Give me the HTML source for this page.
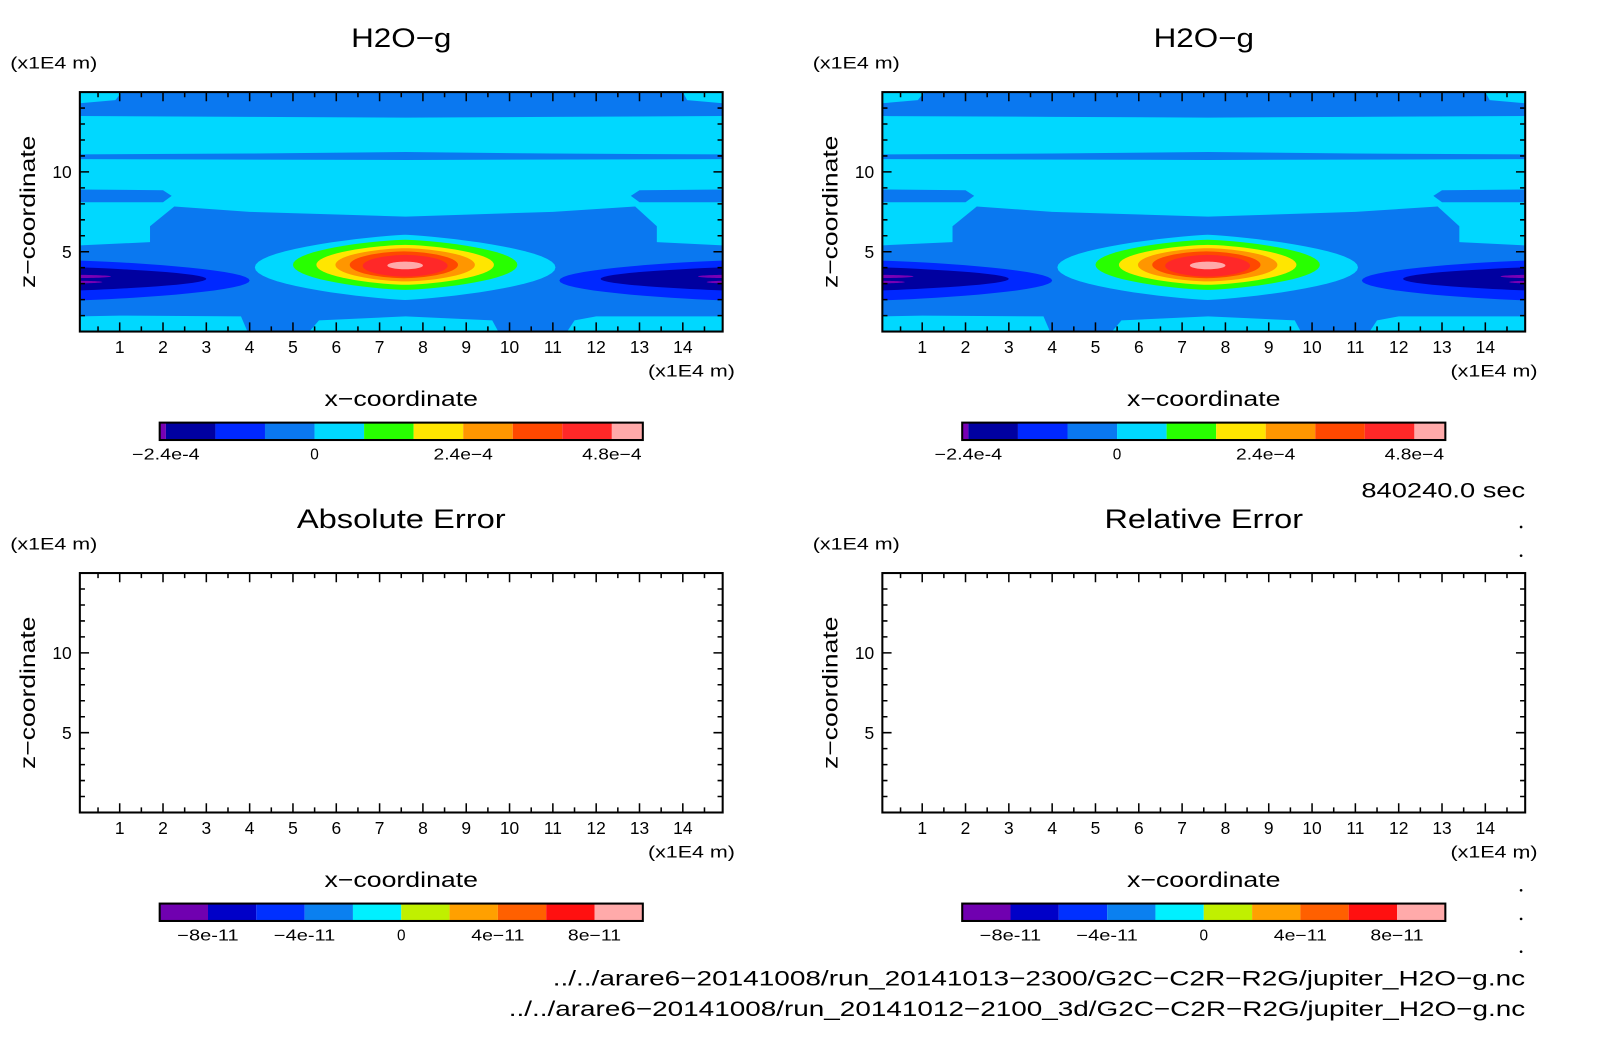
<!DOCTYPE html>
<html><head><meta charset="utf-8"><style>
html,body{margin:0;padding:0;background:#fff;}
svg{display:block;}
text{font-family:"Liberation Sans",sans-serif;fill:#000;}
</style></head><body>
<svg id="fig" width="1604" height="1054" viewBox="0 0 1567 1030" preserveAspectRatio="none" xmlns="http://www.w3.org/2000/svg"></svg>
<script>
// ---- data ----
const levelColors = ["#7800b4","#0000a0","#0028ff","#0a78f0","#00d8ff","#28ff00","#ffe600","#ff9600","#ff4800","#ff2828","#ffaaaa"];
const topTicks = ["-2.4e-4","0","2.4e-4","4.8e-4"];
const topTickVals = [-2.4e-4,0,2.4e-4,4.8e-4];
const topLevels = [-2.4e-4,-1.6e-4,-0.8e-4,0,0.8e-4,1.6e-4,2.4e-4,3.2e-4,4.0e-4,4.8e-4];
const errColors = ["#7000b0","#0000c8","#0030ff","#0a80f0","#00f0ff","#c0f000","#ffa000","#ff6000","#ff1010","#ffaaaa"];
const errLevels = [-1e-10,-8e-11,-6e-11,-4e-11,-2e-11,0,2e-11,4e-11,6e-11,8e-11,1e-10];
const errTicks = ["-8e-11","-4e-11","0","4e-11","8e-11"];
const errTickVals = [-8e-11,-4e-11,0,4e-11,8e-11];
const xTickLabels = [1,2,3,4,5,6,7,8,9,10,11,12,13,14];
const zTickLabels = [5,10];
// polygon regions: [level, [[x,z],...]]
const polys = [
 [4, [[0.08,15],[1.05,15],[0.9,14.5],[0.08,14.3]]],
 [4, [[14.92,15],[14.0,15],[14.1,14.5],[14.92,14.3]]],
 [4, [[0.08,13.5],[4,13.45],[7.6,13.4],[11,13.45],[14.92,13.5],[14.92,11.1],[11,11.15],[7.6,11.25],[4,11.15],[0.08,11.1]]],
 [4, [[0.08,10.8],[7.6,10.75],[14.92,10.8],[14.92,5.4],[13.4,5.6],[13.4,6.6],[12.9,7.83],[11,7.5],[7.6,7.2],[4,7.5],[2.26,7.83],[1.7,6.6],[1.7,5.6],[0.08,5.4]]],
 [3, [[0.08,8.9],[2.0,8.85],[2.2,8.5],[2.0,8.1],[0.08,8.1]]],
 [3, [[14.92,8.9],[13.0,8.85],[12.8,8.5],[13.0,8.1],[14.92,8.1]]],
 [4, [[0.08,0],[3.95,0],[3.8,0.95],[1,1.0],[0.08,0.95]]],
 [4, [[5.38,0],[9.74,0],[9.6,0.7],[7.6,0.95],[5.6,0.7]]],
 [4, [[11.33,0],[14.92,0],[14.92,0.95],[12,0.95],[11.5,0.7]]]
];
// ellipses: [level, cx, cz, rx, rz, pointiness]
const blobs = [
 [2, 0, 3.2, 4.0, 1.25, 1.6],[2, 15, 3.2, 3.85, 1.25, 1.6],
 [1, 0, 3.3, 3.0, 0.73, 1.8],[1, 15, 3.3, 2.9, 0.73, 1.8],
 [0, 0, 3.45, 0.8, 0.1, 1],[0, 0, 3.1, 0.6, 0.08, 1],
 [0, 15, 3.45, 0.65, 0.1, 1],[0, 15, 3.1, 0.45, 0.08, 1],
 [4, 7.59, 4.02, 3.47, 2.04, 1.6],
 [5, 7.59, 4.18, 2.59, 1.57, 1.4],
 [6, 7.59, 4.18, 2.05, 1.25, 1.3],
 [7, 7.59, 4.18, 1.61, 1.04, 1.2],
 [8, 7.56, 4.18, 1.25, 0.84, 1.15],
 [9, 7.59, 4.12, 0.98, 0.68, 1.1],
 [10, 7.59, 4.14, 0.41, 0.24, 1]
];
// ---- drawing ----
const NS="http://www.w3.org/2000/svg";
const svg=document.getElementById('fig');
function mk(tag,attrs,parent){const e=document.createElementNS(NS,tag);for(const k in attrs)e.setAttribute(k,attrs[k]);(parent||svg).appendChild(e);return e;}
function txt(s,x,y,size,anchor,parent,w){const a={x:x,y:y,'font-size':size,'text-anchor':anchor||'start'};
 if(w){a.textLength=w;a.lengthAdjust='spacingAndGlyphs';}
 const t=mk('text',a,parent);t.textContent=s;return t;}
const X0=0.08,X1=14.92,Z0=0,Z1=15;
function panel(ox,oy,title,tw,filled,cbColors,cbLevels,cbTicks,cbVals,cbRange,pid,cbw){
 const g=mk('g',{});
 
 
 const L=78+ox,R=706+ox,T=90+oy,B=324+oy;
 const sx=x=>L+(x-X0)/(X1-X0)*(R-L);
 const sz=z=>B-(z-Z0)/(Z1-Z0)*(B-T);
 let t=txt(title,392+ox,46+oy,26,'middle',g,tw);
 
 t=txt('(x1E4 m)',10+ox,67+oy,16,'start',g,85);
 
 if(filled){
  const cid='clip'+pid;
  const cp=mk('clipPath',{id:cid},g);mk('rect',{x:L,y:T,width:R-L,height:B-T},cp);
  const fg=mk('g',{'clip-path':'url(#'+cid+')'},g);
  
  const bg=mk('rect',{x:L,y:T,width:R-L,height:B-T,fill:levelColors[3]},fg);
  
  polys.forEach(p=>{const pl=mk('polygon',{points:p[1].map(q=>sx(q[0])+','+sz(q[1])).join(' '),fill:levelColors[p[0]]},fg);
   });
  blobs.forEach(b=>{const pts=[];for(let i=0;i<72;i++){const a=i/72*2*Math.PI;const c=Math.cos(a),s=Math.sin(a);
    const cc=Math.sign(c)*Math.pow(Math.abs(c),b[5]);pts.push(sx(b[1]+b[3]*cc)+','+sz(b[2]+b[4]*s));}
   const pl=mk('polygon',{points:pts.join(' '),fill:levelColors[b[0]]},fg);
   });
 }
 const fr=mk('rect',{x:L,y:T,width:R-L,height:B-T,fill:'none',stroke:'#000','stroke-width':2},g);
 
 let d='';
 for(let v=0.5;v<X1;v+=0.5){const len=(v%1===0)?9:5;const x=sx(v);d+=`M${x},${B}v${-len}M${x},${T}v${len}`;}
 for(let v=1;v<Z1;v+=1){const len=(v%5===0)?9:5;const y=sz(v);d+=`M${L},${y}h${len}M${R},${y}h${-len}`;}
 const tk=mk('path',{d:d,stroke:'#000','stroke-width':1.5,fill:'none'},g);
 
 xTickLabels.forEach(v=>{const e=txt(String(v),sx(v),B+21,17,'middle',g);
  });
 zTickLabels.forEach(v=>{const e=txt(String(v),L-8,sz(v)+6,17,'end',g);
  });
 t=txt('(x1E4 m)',718+ox,368+oy,16,'end',g,85);
 
 t=txt('x\u2212coordinate',392+ox,397+oy,21,'middle',g,150);
 
 t=txt('z\u2212coordinate',0,0,21,'middle',g,149);
 t.setAttribute('transform',`translate(${34+ox},${207+oy}) rotate(-90)`);
 
 // colorbar
 const cL=156+ox,cR=628+ox,cT=413+oy,cB=430+oy;
 const cx=v=>cL+(v-cbRange[0])/(cbRange[1]-cbRange[0])*(cR-cL);
 const edges=[cbRange[0]].concat(cbLevels,[cbRange[1]]);
 for(let i=0;i<cbColors.length;i++){const a=cx(edges[i]),b=cx(edges[i+1]);
  const r=mk('rect',{x:a,y:cT,width:b-a,height:cB-cT,fill:cbColors[i]},g);
  }
 const cf=mk('rect',{x:cL,y:cT,width:cR-cL,height:cB-cT,fill:'none',stroke:'#000','stroke-width':2},g);
 
 cbTicks.forEach((s,i)=>{const e=txt(s.replace('-','\u2212'),cx(cbVals[i]),449+oy,15,'middle',g,s==='0'?null:(s[0]==='-'?cbw+8:cbw));
  });
}
const topLv=topLevels, errLv=errLevels.slice(1,-1);
panel(0,0,'H2O\u2212g',98,true,levelColors,topLv,topTicks,topTickVals,[-2.5e-4,5.3e-4],'h2o-left',58);
panel(784,0,'H2O\u2212g',98,true,levelColors,topLv,topTicks,topTickVals,[-2.5e-4,5.3e-4],'h2o-right',58);
panel(0,470,'Absolute Error',204,false,errColors,errLv,errTicks,errTickVals,[-1e-10,1e-10],'abs-error',52);
panel(784,470,'Relative Error',194,false,errColors,errLv,errTicks,errTickVals,[-1e-10,1e-10],'rel-error',52);
let e=txt('840240.0 sec',1490,486,21,'end',null,160);

e=txt('../../arare6\u221220141008/run_20141013\u22122300/G2C\u2212C2R\u2212R2G/jupiter_H2O\u2212g.nc',1490,963,21,'end',null,950);

e=txt('../../arare6\u221220141008/run_20141012\u22122100_3d/G2C\u2212C2R\u2212R2G/jupiter_H2O\u2212g.nc',1490,993,21,'end',null,993);

[515,543,838,870,898,930].forEach(y=>{const c=mk('circle',{cx:1486,cy:y,r:1.3,fill:'#000'});
 });
</script>
</body></html>
